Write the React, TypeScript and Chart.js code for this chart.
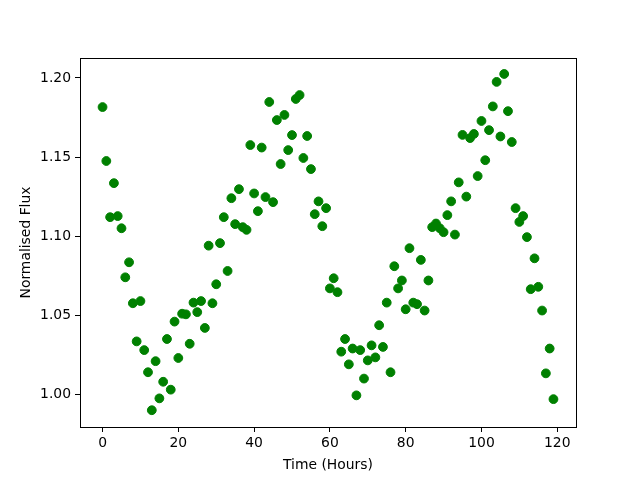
import React, { useEffect, useRef } from "react";
import { Chart, registerables } from "chart.js";

Chart.register(...registerables);

const hours = [
  0, 1, 2, 3, 4, 5, 6, 7, 8, 9, 10, 11, 12, 13, 14, 15, 16, 17, 18, 19,
  20, 21, 22, 23, 24, 25, 26, 27, 28, 29, 30, 31, 32, 33, 34, 35, 36, 37, 38, 39,
  40, 41, 42, 43, 44, 45, 46, 47, 48, 49, 50, 51, 52, 53, 54, 55, 56, 57, 58, 59,
  60, 61, 62, 63, 64, 65, 66, 67, 68, 69, 70, 71, 72, 73, 74, 75, 76, 77, 78, 79,
  80, 81, 82, 83, 84, 85, 86, 87, 88, 89, 90, 91, 92, 93, 94, 95, 96, 97, 98, 99,
  100, 101, 102, 103, 104, 105, 106, 107, 108, 109, 110, 111, 112, 113, 114, 115, 116, 117, 118, 119,
];

const flux = [
  1.1816, 1.1475, 1.112, 1.1335, 1.1127, 1.105, 1.074, 1.0835, 1.0576, 1.0335,
  1.059, 1.028, 1.014, 0.99, 1.021, 0.9975, 1.008, 1.035, 1.003, 1.046,
  1.023, 1.051, 1.0506, 1.032, 1.058, 1.052, 1.059, 1.042, 1.094, 1.0576,
  1.0696, 1.0956, 1.112, 1.078, 1.124, 1.1076, 1.1297, 1.1057, 1.104, 1.1576,
  1.127, 1.1158, 1.156, 1.1247, 1.1848, 1.1215, 1.1734, 1.1456, 1.1766, 1.1544,
  1.1639, 1.1867, 1.1892, 1.1494, 1.1633, 1.1424, 1.1139, 1.122, 1.1063, 1.1177,
  1.067, 1.0734, 1.0646, 1.027, 1.035, 1.019, 1.029, 0.9994, 1.028, 1.01,
  1.0215, 1.031, 1.0234, 1.0437, 1.03, 1.058, 1.014, 1.081, 1.067, 1.072,
  1.0538, 1.0924, 1.058, 1.057, 1.085, 1.053, 1.072, 1.1057, 1.108, 1.105,
  1.1025, 1.1133, 1.122, 1.101, 1.134, 1.164, 1.125, 1.162, 1.1646, 1.138,
  1.1728, 1.148, 1.167, 1.182, 1.1975, 1.163, 1.2025, 1.179, 1.1595, 1.1177,
  1.109, 1.1127, 1.0994, 1.0665, 1.086, 1.068, 1.053, 1.0133, 1.029, 0.997,
];

const xTicks = [0, 20, 40, 60, 80, 100, 120];
const yTicks = [1.0, 1.05, 1.1, 1.15, 1.2];

const frame = {
  id: "frame",
  afterDraw(chart: any) {
    const { ctx, chartArea } = chart;
    ctx.save();
    ctx.strokeStyle = "#000";
    ctx.lineWidth = 1;
    ctx.strokeRect(
      Math.round(chartArea.left) + 0.5,
      Math.round(chartArea.top) + 0.5,
      Math.round(chartArea.right - chartArea.left),
      Math.round(chartArea.bottom - chartArea.top)
    );
    ctx.restore();
  },
};

export default function App() {
  const ref = useRef<HTMLCanvasElement>(null);
  useEffect(() => {
    if (!ref.current) return;
    const font = { family: "DejaVu Sans", size: 13.9 };
    const chart = new Chart(ref.current, {
      type: "scatter",
      data: {
        datasets: [
          {
            data: hours.map((h, i) => ({ x: h, y: flux[i] })),
            backgroundColor: "#008000",
            borderColor: "#008000",
            borderWidth: 1,
            pointRadius: 4.4,
          },
        ],
      },
      options: {
        animation: false,
        responsive: false,
        events: [],
        layout: { padding: { left: 18, right: 64, top: 58, bottom: 6 } },
        plugins: { legend: { display: false }, tooltip: { enabled: false } },
        scales: {
          x: {
            type: "linear",
            min: -5.95,
            max: 124.95,
            afterBuildTicks: (s: any) => {
              s.ticks = xTicks.map((v) => ({ value: v }));
            },
            afterFit: (s: any) => {
              s.height = 47;
            },
            grid: {
              drawOnChartArea: false,
              drawTicks: true,
              tickLength: 5,
              tickColor: "#000",
              color: "#000",
            },
            border: { display: false },
            ticks: { color: "#000", font, padding: 3, maxRotation: 0 },
            title: {
              display: true,
              text: "Time (Hours)",
              color: "#000",
              font,
              padding: { top: 2, bottom: 0 },
            },
          },
          y: {
            type: "linear",
            min: 0.9794,
            max: 1.2126,
            afterBuildTicks: (s: any) => {
              s.ticks = yTicks.map((v) => ({ value: v }));
            },
            afterFit: (s: any) => {
              s.width = 62;
            },
            grid: {
              drawOnChartArea: false,
              drawTicks: true,
              tickLength: 5,
              tickColor: "#000",
              color: "#000",
            },
            border: { display: false },
            ticks: {
              color: "#000",
              font,
              padding: 4,
              callback: (v: any) => Number(v).toFixed(2),
            },
            title: {
              display: true,
              text: "Normalised Flux",
              color: "#000",
              font,
              padding: { top: 0, bottom: 4 },
            },
          },
        },
      },
      plugins: [frame],
    });
    return () => chart.destroy();
  }, []);
  return (
    <div style={{ position: "fixed", left: 0, top: 0, width: 640, height: 480, background: "#fff" }}>
      <canvas ref={ref} width={640} height={480} style={{ width: 640, height: 480 }} />
    </div>
  );
}
